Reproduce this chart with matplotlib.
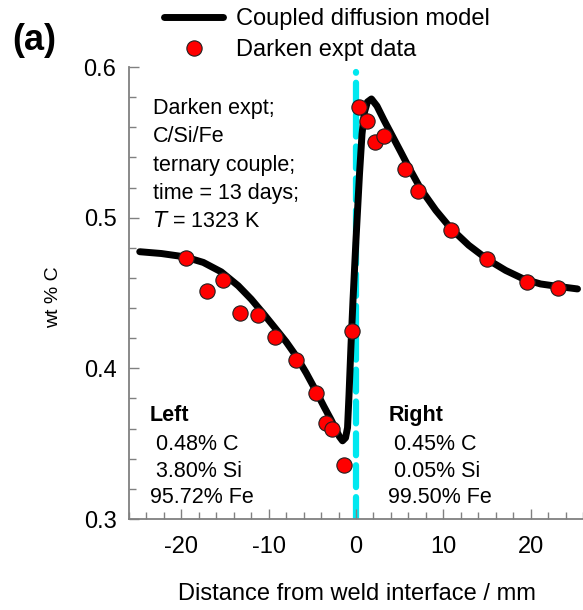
import matplotlib
matplotlib.use("Agg")
import matplotlib.pyplot as plt
from matplotlib.ticker import MultipleLocator

plt.rcParams['font.family'] = ['Liberation Sans', 'DejaVu Sans']

# Coupled diffusion model profile (distance in mm, wt % C)
model_x = [-24.77, -22.29, -19.62, -17.49, -15.43, -13.49, -12.0, -10.63, -9.26, -8.0,
           -6.86, -5.71, -4.57, -3.66, -2.86, -2.29, -1.89, -1.54, -1.2, -0.97,
           -0.8, -0.57, -0.34, 0.0, 0.4, 0.69, 0.97, 1.31, 1.77, 2.4,
           3.2, 4.23, 5.14, 5.91, 7.43, 9.14, 10.86, 12.91, 15.05, 17.14,
           19.2, 21.14, 23.09, 25.37]
model_c = [0.4774, 0.4762, 0.4740, 0.4703, 0.4640, 0.4548, 0.4459, 0.4365, 0.4267, 0.4176,
           0.4082, 0.3970, 0.3848, 0.3745, 0.3659, 0.3592, 0.3546, 0.3519, 0.3539, 0.3606,
           0.3825, 0.4158, 0.4457, 0.4856, 0.5289, 0.5555, 0.5701, 0.5768, 0.5788, 0.5741,
           0.5648, 0.5535, 0.5435, 0.5349, 0.5189, 0.5049, 0.4929, 0.4817, 0.4723, 0.4650,
           0.4593, 0.4560, 0.4544, 0.4527]

# Darken's measured carbon profile
expt_x = [-19.43, -17.03, -15.24, -13.33, -11.24, -9.26, -6.86, -4.57, -3.43, -2.78,
          -1.41, -0.46, 0.30, 1.22, 2.21, 3.24, 5.64, 7.12, 10.93, 15.05, 19.54, 23.16]
expt_c = [0.4735, 0.4512, 0.4586, 0.4364, 0.4351, 0.4207, 0.4053, 0.3836, 0.3637, 0.3599,
          0.3359, 0.4246, 0.5733, 0.5644, 0.5504, 0.5540, 0.5322, 0.5178, 0.4916, 0.4728,
          0.4575, 0.4535]

x_ticks = [-20, -10, 0, 10, 20]
y_ticks = [0.3, 0.4, 0.5, 0.6]

fig = plt.figure(figsize=(5.83, 6.10), dpi=100)
ax = fig.add_axes([129 / 583, 1 - 519 / 610, (583 - 129) / 583, (519 - 67) / 610])

ax.plot([0, 0], [0.3, 0.597], color='#00e8f0', lw=4.5, ls=(0, (3.5, 1.6)),
        solid_capstyle='round', dash_capstyle='round', zorder=1)
line, = ax.plot(model_x, model_c, color='black', lw=5, solid_capstyle='round',
                solid_joinstyle='round', zorder=2, label='Coupled diffusion model')
pts, = ax.plot(expt_x, expt_c, 'o', ms=11, mfc='#ff0000', mec='#202020', mew=0.8,
               zorder=3, label='Darken expt data')

ax.set_xlim(-26, 26)
ax.set_ylim(0.3, 0.6)
ax.set_xticks(x_ticks)
ax.set_yticks(y_ticks)
ax.set_xticklabels([f"{v:d}" for v in x_ticks])
ax.set_yticklabels([f"{v:.1f}" for v in y_ticks])
ax.xaxis.set_minor_locator(MultipleLocator(2))
ax.yaxis.set_minor_locator(MultipleLocator(0.02))

for s in ('top', 'right'):
    ax.spines[s].set_visible(False)
for s in ('left', 'bottom'):
    ax.spines[s].set_color('#808080')
    ax.spines[s].set_linewidth(1.3)
ax.tick_params(which='both', direction='in', color='#808080', width=1.0,
               labelsize=17, labelcolor='black')
ax.tick_params(which='major', length=7)
ax.tick_params(which='minor', length=4.8)
ax.tick_params(axis='x', which='major', pad=12)
ax.tick_params(axis='y', which='major', pad=9)
ax.patch.set_visible(False)

ax.set_xlabel('Distance from weld interface / mm', fontsize=17)
ax.xaxis.set_label_coords(0.503, -0.1416)
ax.set_ylabel('wt % C', fontsize=14)
ax.yaxis.set_label_coords(-0.148, 0.491)

tfs = 15.5
ax.text(-23.3, 0.5794, 'Darken expt;\nC/Si/Fe\nternary couple;\ntime = 13 days;\n$T$ = 1323 K',
        fontsize=tfs, va='top', ha='left', linespacing=1.46)
ax.text(-23.65, 0.3685, 'Left', fontsize=tfs, fontweight='bold', va='center', ha='left')
ax.text(-23.65, 0.3562, ' 0.48% C\n 3.80% Si\n95.72% Fe', fontsize=tfs, va='top', ha='left',
        linespacing=1.33)
ax.text(3.7, 0.3685, 'Right', fontsize=tfs, fontweight='bold', va='center', ha='left')
ax.text(3.7, 0.3562, ' 0.45% C\n 0.05% Si\n99.50% Fe', fontsize=tfs, va='top', ha='left',
        linespacing=1.33)

fig.legend(handles=[line, pts], loc='upper left', bbox_to_anchor=(164 / 583, 1 - 8 / 610),
           frameon=False, fontsize=17, handlelength=2.5, handletextpad=0.55,
           labelspacing=0.38, borderaxespad=0, borderpad=0)

fig.text(12 / 583, 1 - 40 / 610, '(a)', fontsize=26, fontweight='bold', va='center', ha='left')

fig.savefig('out.png', dpi=100)
